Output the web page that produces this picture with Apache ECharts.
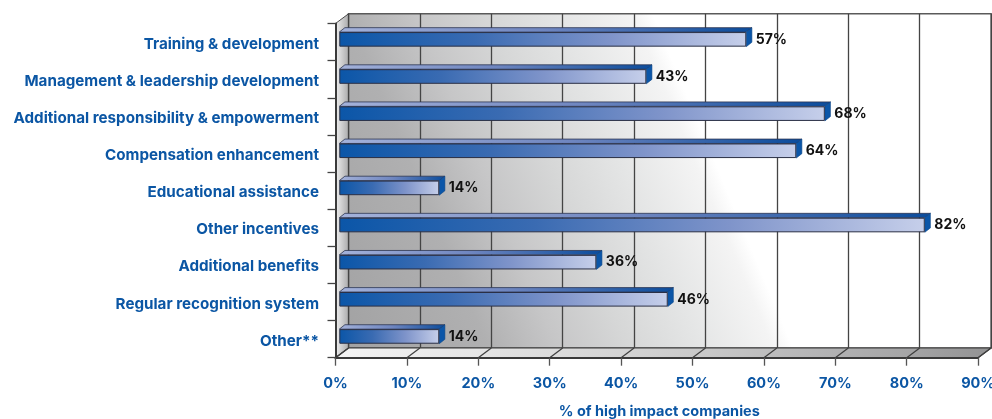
<!DOCTYPE html>
<html>
<head>
<meta charset="utf-8">
<style>html,body{margin:0;padding:0;background:#fff}#chart{width:992px;height:419px}</style>
<script src="https://cdn.jsdelivr.net/npm/echarts@6/dist/echarts.min.js"></script>
</head>
<body>
<div id="chart"></div>
<script>
// Share of high impact companies using each retention practice
const categories = [
  'Training & development',
  'Management & leadership development',
  'Additional responsibility & empowerment',
  'Compensation enhancement',
  'Educational assistance',
  'Other incentives',
  'Additional benefits',
  'Regular recognition system',
  'Other**'
];
const shares = [57, 43, 68, 64, 14, 82, 36, 46, 14];
const axisTicks = [0, 10, 20, 30, 40, 50, 60, 70, 80, 90];
const axisTitle = '% of high impact companies';

const BLUE = '#0b56a4';
const EDGE = '#3a3a3a';
const FONT = 'Inter';
// Room depth and bar depth of the pseudo-3D box, in pixels
const ROOM_DX = 13, ROOM_DY = 9.7;
const BAR_DX = 5.6, BAR_DY = 4.4, BAR_H = 14.6;

const G = echarts.graphic;
const horiz = stops => new G.LinearGradient(0, 0, 1, 0,
  stops.map((c, i) => typeof c === 'string' ? {offset: i / (stops.length - 1), color: c} : c));

const plot = {left: 335.5, top: 23.5, width: 642.6, height: 334.2, outerBoundsMode: 'none'};
const shifted = (dx, dy) => ({left: plot.left + dx, top: plot.top + dy, width: plot.width, height: plot.height, outerBoundsMode: 'none'});

const hiddenCat = idx => ({type: 'category', gridIndex: idx, inverse: true, data: categories, show: false});

const option = {
  animation: false,
  grid: [
    plot,
    Object.assign({
      show: true,
      borderColor: '#5a5a5a',
      borderWidth: 1.5,
      // The back wall fades to white along a slanted direction
      backgroundColor: new G.LinearGradient(0, 1, 0.588, 0.525, [
        {offset: 0, color: '#a2a2a3'},
        {offset: 0.315, color: '#b0b0b1'},
        {offset: 0.47, color: '#c6c6c7'},
        {offset: 0.63, color: '#d6d7d7'},
        {offset: 0.786, color: '#e4e5e5'},
        {offset: 0.955, color: '#f4f4f4'},
        {offset: 1, color: '#ffffff'}
      ]),
      z: 0
    }, shifted(ROOM_DX, -ROOM_DY)),
    shifted(3.8, -2.7),
    // Category names sit slightly below the tick band centres
    shifted(0, 2)
  ],
  xAxis: [
    {
      type: 'value', gridIndex: 0, min: 0, max: 90, interval: 10, z: 5,
      splitLine: {show: false},
      axisLine: {show: true, onZero: false, lineStyle: {color: EDGE, width: 2}},
      axisTick: {show: true, length: 8, lineStyle: {color: '#555', width: 1.3}},
      axisLabel: {
        margin: 18, color: BLUE, fontFamily: FONT, fontWeight: 700, fontSize: 14.5,
        hideOverlap: false, showMinLabel: true, showMaxLabel: true,
        formatter: v => axisTicks.includes(v) ? v + '%' : ''
      },
      name: axisTitle, nameLocation: 'middle', nameGap: 46,
      nameTextStyle: {color: BLUE, fontFamily: FONT, fontWeight: 700, fontSize: 14.5, padding: [0, 0, 0, 5]}
    },
    {
      type: 'value', gridIndex: 1, min: 0, max: 90, interval: 10, z: 2,
      axisLine: {show: false}, axisTick: {show: false}, axisLabel: {show: false},
      splitLine: {show: true, lineStyle: {color: '#444', width: 1.3}}
    },
    {
      type: 'value', gridIndex: 2, min: 0, max: 90, interval: 10, show: false,
      splitLine: {show: false}
    },
    {
      type: 'value', gridIndex: 3, min: 0, max: 90, interval: 10, show: false,
      splitLine: {show: false}
    }
  ],
  yAxis: [
    {
      type: 'category', gridIndex: 0, inverse: true, data: categories, z: 5,
      axisLine: {show: true, onZero: false, lineStyle: {color: EDGE, width: 2}},
      axisTick: {show: true, length: 8, alignWithLabel: false, lineStyle: {color: '#444', width: 1.3}},
      axisLabel: {show: false}
    },
    hiddenCat(1),
    hiddenCat(2),
    {
      type: 'category', gridIndex: 3, inverse: true, data: categories, z: 5,
      axisLine: {show: false}, axisTick: {show: false},
      axisLabel: {
        margin: 16.5, color: BLUE, fontFamily: FONT, fontWeight: 700, fontSize: 15.2,
        interval: 0
      }
    }
  ],
  series: [
    {
      // Left wall and floor of the box, spanning the whole value axis
      type: 'custom', xAxisIndex: 0, yAxisIndex: 0, z: 1, silent: true,
      data: [[axisTicks[0], axisTicks[axisTicks.length - 1]]],
      renderItem(params, api) {
        const c = params.coordSys;
        const yb = c.y + c.height;
        const x0 = api.coord([api.value(0), 0])[0];
        const x1 = api.coord([api.value(1), 0])[0];
        return {
          type: 'group',
          children: [
            {
              type: 'polygon',
              shape: {points: [[x0, c.y], [x0 + ROOM_DX, c.y - ROOM_DY], [x0 + ROOM_DX, yb - ROOM_DY], [x0, yb]]},
              style: {fill: horiz(['#f2f2f2', '#a9a9aa']), stroke: '#4a4a4a', lineWidth: 1}
            },
            {
              type: 'polygon',
              shape: {points: [[x0, yb], [x0 + ROOM_DX, yb - ROOM_DY], [x1 + ROOM_DX, yb - ROOM_DY], [x1, yb]]},
              style: {
                fill: horiz([
                  {offset: 0, color: '#f4f4f4'},
                  {offset: 0.25, color: '#e2e2e2'},
                  {offset: 0.41, color: '#d6d6d6'},
                  {offset: 0.57, color: '#c8c8c8'},
                  {offset: 0.72, color: '#b6b6b7'},
                  {offset: 0.88, color: '#a4a4a5'},
                  {offset: 1, color: '#929293'}
                ]),
                stroke: EDGE, lineWidth: 1.2
              }
            }
          ]
        };
      }
    },
    {
      // Floor lines running from each front tick back to the wall
      type: 'custom', xAxisIndex: 0, yAxisIndex: 0, z: 1.5, silent: true,
      data: axisTicks.map(v => [v]),
      renderItem(params, api) {
        const c = params.coordSys;
        const yb = c.y + c.height;
        const x = api.coord([api.value(0), 0])[0];
        return {
          type: 'line',
          shape: {x1: x, y1: yb, x2: x + ROOM_DX, y2: yb - ROOM_DY},
          style: {stroke: '#3f3f3f', lineWidth: 1.2}
        };
      }
    },
    {
      // Top and end faces of each bar
      type: 'custom', xAxisIndex: 2, yAxisIndex: 2, z: 6, silent: true,
      data: shares.map((v, i) => [v, i]),
      renderItem(params, api) {
        const p0 = api.coord([0, api.value(1)]);
        const p1 = api.coord([api.value(0), api.value(1)]);
        const t = p0[1] - BAR_H / 2, b = p0[1] + BAR_H / 2;
        return {
          type: 'group',
          children: [
            {
              type: 'polygon',
              shape: {points: [[p0[0], t], [p0[0] + BAR_DX, t - BAR_DY], [p1[0] + BAR_DX, t - BAR_DY], [p1[0], t]]},
              style: {fill: horiz(['#a4b2da', '#6f86c0', '#0b4c9c']), stroke: '#2c3550', lineWidth: 0.8}
            },
            {
              type: 'polygon',
              shape: {points: [[p1[0], t], [p1[0] + BAR_DX, t - BAR_DY], [p1[0] + BAR_DX, b - BAR_DY], [p1[0], b]]},
              style: {fill: '#0b56a8', stroke: '#0a4588', lineWidth: 0.6}
            }
          ]
        };
      }
    },
    {
      // Front faces of the bars, with the value printed past the end
      type: 'bar', xAxisIndex: 2, yAxisIndex: 2, z: 7,
      barWidth: BAR_H,
      data: shares,
      silent: true,
      itemStyle: {
        color: horiz(['#0b56a8', '#3a6bb2', '#7f94ca', '#c6cfea']),
        borderColor: '#2a2f45', borderWidth: 1
      },
      label: {
        show: true, position: 'right', distance: 9.5,
        formatter: '{c}%', color: '#111', fontFamily: FONT, fontWeight: 700, fontSize: 14
      }
    }
  ]
};

const chart = echarts.init(document.getElementById('chart'), null, {renderer: 'canvas'});
chart.setOption(option);
</script>
</body>
</html>
